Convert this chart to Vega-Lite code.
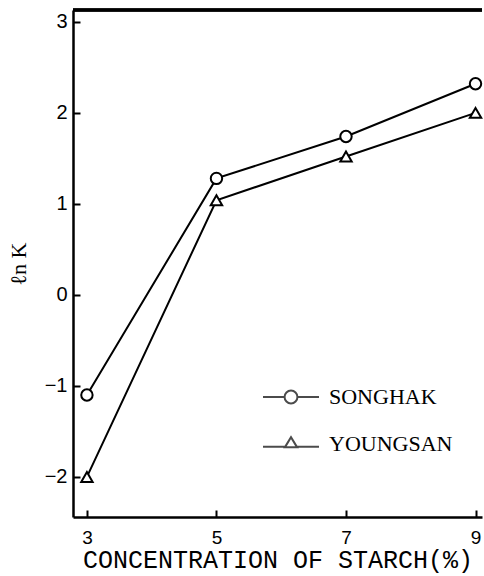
{
  "$schema": "https://vega.github.io/schema/vega-lite/v6.json",
  "width": 409,
  "height": 507,
  "autosize": {"type": "none"},
  "padding": {"left": 73, "top": 10, "right": 2, "bottom": 59},
  "background": "white",
  "config": {"view": {"stroke": null}},
  "data": {"values": [
    {"conc": 3, "lnK": -1.1, "series": "SONGHAK"},
    {"conc": 5, "lnK": 1.28, "series": "SONGHAK"},
    {"conc": 7, "lnK": 1.74, "series": "SONGHAK"},
    {"conc": 9, "lnK": 2.32, "series": "SONGHAK"},
    {"conc": 3, "lnK": -2.0, "series": "YOUNGSAN"},
    {"conc": 5, "lnK": 1.04, "series": "YOUNGSAN"},
    {"conc": 7, "lnK": 1.52, "series": "YOUNGSAN"},
    {"conc": 9, "lnK": 2.0, "series": "YOUNGSAN"}
  ]},
  "encoding": {
    "x": {"field": "conc", "type": "quantitative",
      "scale": {"domain": [2.785, 9.1], "nice": false, "zero": false},
      "axis": {"values": [3, 5, 7, 9], "grid": false, "title": "CONCENTRATION OF STARCH(%)",
        "domainColor": "black", "domainWidth": 2.5, "tickColor": "black", "tickWidth": 2, "tickSize": -7,
        "labelPadding": 18, "labelFont": "Liberation Sans", "labelFontSize": 19, "labelColor": "black",
        "titleFont": "Liberation Mono", "titleFontSize": 25, "titleFontWeight": "normal", "titleColor": "black", "titlePadding": 0}},
    "y": {"field": "lnK", "type": "quantitative",
      "scale": {"domain": [-2.44, 3.13], "nice": false, "zero": false},
      "axis": {"values": [-2, -1, 0, 1, 2, 3], "grid": false, "title": "ℓn K",
        "domainColor": "black", "domainWidth": 2.5, "tickColor": "black", "tickWidth": 2, "tickSize": -7,
        "labelPadding": 13, "labelFont": "Liberation Sans", "labelFontSize": 20, "labelColor": "black",
        "titleFont": "Liberation Serif", "titleFontSize": 22, "titleFontWeight": "normal", "titleColor": "black", "titlePadding": 14}}
  },
  "layer": [
    {
      "mark": {"type": "rule", "color": "black", "strokeWidth": 2.5},
      "encoding": {"x": null, "y": {"datum": 3.13}}
    },
    {
      "mark": {"type": "line", "color": "black", "strokeWidth": 2},
      "encoding": {"detail": {"field": "series"}}
    },
    {
      "mark": {"type": "point", "filled": true, "fill": "white", "stroke": "black", "strokeWidth": 2, "size": 130, "opacity": 1},
      "encoding": {"shape": {"field": "series", "type": "nominal",
        "scale": {"domain": ["SONGHAK", "YOUNGSAN"], "range": ["circle", "triangle-up"]}, "legend": null}}
    },
    {
      "transform": [{"filter": "false"}],
      "mark": {"type": "point", "filled": false, "color": "black", "strokeWidth": 2, "size": 3136},
      "encoding": {"shape": {"field": "series", "type": "nominal",
        "scale": {"domain": ["SONGHAK", "YOUNGSAN"], "range": [
          "M-1,0H-0.23M0.23,0H1M-0.23,0A0.23,0.23,0,1,0,0.23,0A0.23,0.23,0,1,0,-0.23,0",
          "M-1,0.1H-0.22M0.22,0.1H1M-0.22,0.12L0,-0.24L0.22,0.12Z"]},
        "legend": {"orient": "none", "legendX": 189, "legendY": 358, "title": null, "padding": 0,
          "symbolSize": 3136, "symbolStrokeColor": "black", "symbolStrokeWidth": 2, "symbolFillColor": "transparent",
          "labelFont": "Liberation Serif", "labelFontSize": 22, "labelColor": "black", "labelOffset": 9,
          "rowPadding": 7}}}
    }
  ],
  "resolve": {"scale": {"shape": "independent"}}
}
